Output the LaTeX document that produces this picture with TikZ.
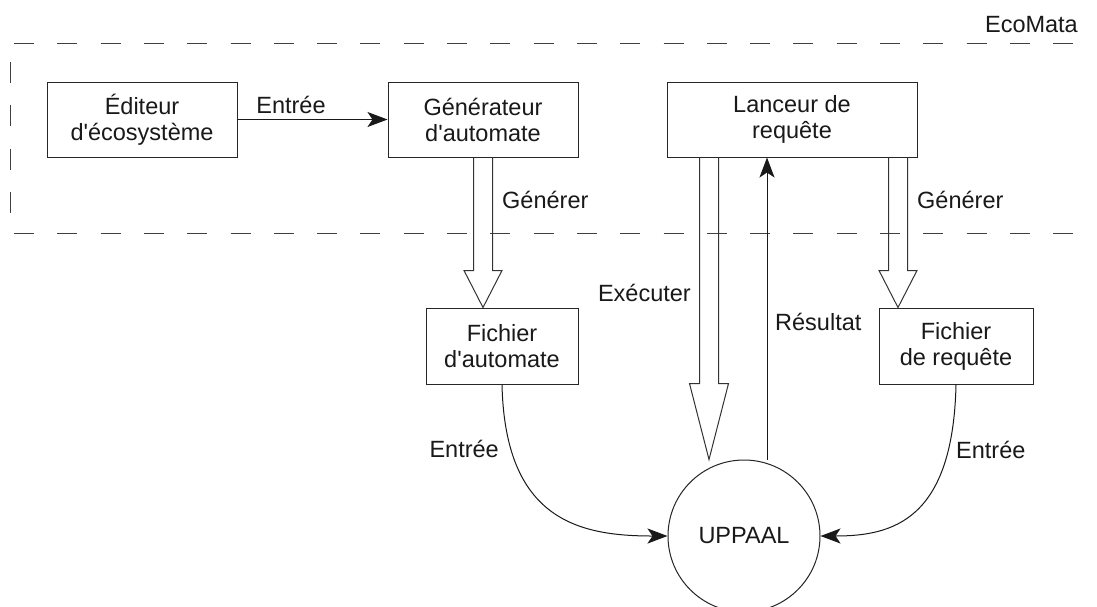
\documentclass[tikz,border=0pt]{standalone}
\usepackage{fontspec}
\newfontfamily\lblfam{Liberation Sans}
\usetikzlibrary{arrows.meta,calc}
\newcommand\lblfont{\lblfam\fontsize{23.5}{26}\selectfont}
\newcommand\hollowarr[5]{\draw[hollow] let \p1=(#1), \p2=(#2) in
  (\x1-#4,\y1) -- (\x1-#4,\y2+#3) -- (\x1-#5,\y2+#3) -- (\x1,\y2) -- (\x1+#5,\y2+#3) -- (\x1+#4,\y2+#3) -- (\x1+#4,\y1);}
\begin{document}
\begin{tikzpicture}[x=1pt,y=-1pt,
  box/.style={draw=black!85, line width=1pt, minimum height=75pt, inner sep=0pt, align=center, font=\lblfont, text=black!90},
  lbl/.style={font=\lblfont, inner sep=0pt, text=black!90},
  frame/.style={draw=black!75, line width=1pt},
  hollow/.style={draw=black!80, line width=1pt},
  tip/.style={-{Stealth[length=20pt,width=15pt,inset=5pt]}},
  conn/.style={draw=black!90, line width=1pt}
]
\useasboundingbox (0,0) rectangle (1097,606);
\fill[white] (0,0) rectangle (1097,606);

% frame
\draw[frame, dash pattern=on 20pt off 23.3pt] (14,43) -- (1078,43);
\draw[frame, dash pattern=on 20pt off 23.3pt] (14,233) -- (1078,233);
\draw[frame, dash pattern=on 21pt off 22.3pt] (10,62) -- (10,215);
\node[lbl, anchor=east] (eco) at (1078,25) {EcoMata};

% nodes
\node[box, minimum width=190pt] (editeur) at (142,119.5) {Éditeur\\d'écosystème};
\node[box, minimum width=190pt] (generateur) at (483,119.5) {Générateur\\d'automate};
\node[box, minimum width=250pt] (lanceur) at (792,119.5) {Lanceur de\\requête};
\node[box, minimum width=152pt, minimum height=76pt] (fauto) at (502,346) {Fichier\\d'automate};
\node[box, minimum width=154pt, minimum height=76pt] (freq) at (956,346) {Fichier\\de requête};
\node[draw=black!85, line width=1pt, circle, minimum size=152pt, inner sep=0pt, font=\lblfont, text=black!90] (uppaal) at (744,536) {UPPAAL};

% connectors
\draw[conn, tip] (editeur.east) -- (generateur.west);
\node[lbl] (lentree1) at (291,105) {Entrée};

\coordinate (g1s) at (generateur.south);
\coordinate (g1e) at (g1s |- fauto.north);
\hollowarr{g1s}{g1e}{37pt}{9.5pt}{19pt}
\node[lbl, anchor=west] (lgen1) at (502,200) {Générer};

\coordinate (exs) at ($(lanceur.south west)+(42.5,0)$);
\coordinate (exe) at (exs |- uppaal.north);
\hollowarr{exs}{exe}{76pt}{9.5pt}{19.5pt}
\node[lbl, anchor=east] (lexec) at (691,293) {Exécuter};

\coordinate (g2s) at ($(lanceur.south west)+(231.5,0)$);
\coordinate (g2e) at (g2s |- freq.north);
\hollowarr{g2s}{g2e}{37pt}{9.5pt}{19pt}
\node[lbl, anchor=west] (lgen2) at (917,200) {Générer};

\coordinate (rs) at ($(uppaal.north)+(23,0)$);
\coordinate (re) at (rs |- lanceur.south);
\draw[conn, tip] (rs) -- (re);
\node[lbl, anchor=west] (lres) at (775,322) {Résultat};

\draw[conn, tip] (fauto.south) .. controls +(3,136) and +(-88,0) .. (uppaal.west);
\node[lbl, anchor=east] (lentree2) at (499,449) {Entrée};

\draw[conn, tip] (freq.south) .. controls +(-3,136) and +(72,0) .. (uppaal.east);
\node[lbl, anchor=west] (lentree3) at (956,450) {Entrée};
\end{tikzpicture}
\end{document}
